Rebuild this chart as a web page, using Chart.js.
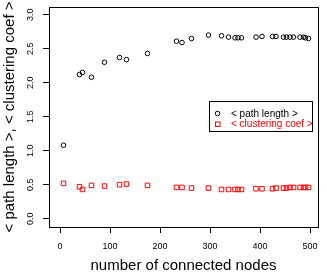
<!DOCTYPE html>
<html>
<head>
<meta charset="utf-8">
<script src="https://cdn.jsdelivr.net/npm/chart.js@4/dist/chart.umd.min.js"></script>
<style>
html,body{margin:0;padding:0;background:#fff;}
canvas{display:block;}
</style>
</head>
<body>
<canvas id="c" width="327" height="273"></canvas>
<script>
const nodes = [7, 39, 45, 63, 89, 119, 133, 175, 233, 244, 263, 297, 323, 337, 350, 356, 363, 392, 404, 425, 432, 447, 453, 460, 467, 480, 487, 491, 497];
const pathLength = [1.08, 2.12, 2.15, 2.08, 2.30, 2.37, 2.34, 2.43, 2.61, 2.59, 2.65, 2.70, 2.69, 2.67, 2.66, 2.66, 2.66, 2.67, 2.68, 2.68, 2.68, 2.67, 2.67, 2.67, 2.67, 2.67, 2.67, 2.66, 2.65];
const clusteringCoef = [0.52, 0.47, 0.43, 0.49, 0.48, 0.50, 0.51, 0.49, 0.46, 0.46, 0.45, 0.45, 0.43, 0.43, 0.43, 0.43, 0.43, 0.44, 0.44, 0.44, 0.45, 0.45, 0.45, 0.46, 0.46, 0.46, 0.46, 0.46, 0.46];
const xTicks = [0, 100, 200, 300, 400, 500];
const yTicks = [0.0, 0.5, 1.0, 1.5, 2.0, 2.5, 3.0];
const seriesNames = ['< path length >', '< clustering coef >'];
const xTitle = 'number of connected nodes';
const yTitle = '< path length >, < clustering coef >';

const FONT = '"Liberation Sans", Arial, Helvetica, sans-serif';

const rPlot = {
  id: 'rPlot',
  afterDraw(chart) {
    const ctx = chart.ctx;
    const a = chart.chartArea;
    const ys = chart.scales.y;
    ctx.save();
    // box
    ctx.strokeStyle = '#000';
    ctx.lineWidth = 1;
    ctx.strokeRect(Math.round(a.left) + 0.5, Math.round(a.top) + 0.5, Math.round(a.right - a.left), Math.round(a.bottom - a.top));
    // y tick labels (rotated, R style)
    ctx.fillStyle = '#000';
    ctx.font = '9px ' + FONT;
    ctx.textAlign = 'center';
    ctx.textBaseline = 'middle';
    yTicks.forEach(v => {
      const py = ys.getPixelForValue(v);
      ctx.save();
      ctx.translate(31, py);
      ctx.rotate(-Math.PI / 2);
      ctx.fillText(v.toFixed(1), 0, 0);
      ctx.restore();
    });
    // titles
    ctx.font = '15px ' + FONT;
    ctx.textBaseline = 'alphabetic';
    ctx.fillText(xTitle, (a.left + a.right) / 2, 270);
    ctx.save();
    ctx.translate(14, (a.top + a.bottom) / 2);
    ctx.rotate(-Math.PI / 2);
    ctx.fillText(yTitle, 0, 0);
    ctx.restore();
    // legend
    const lx = 209, ly = 101, lw = 103, lh = 30;
    ctx.fillStyle = '#fff';
    ctx.fillRect(lx, ly, lw, lh);
    ctx.strokeStyle = '#000';
    ctx.strokeRect(lx + 0.5, ly + 0.5, lw, lh);
    ctx.font = '10px ' + FONT;
    ctx.textAlign = 'left';
    ctx.textBaseline = 'middle';
    ctx.lineWidth = 1;
    ctx.beginPath();
    ctx.arc(217.5, 113.5, 2.3, 0, Math.PI * 2);
    ctx.strokeStyle = '#000';
    ctx.stroke();
    ctx.fillStyle = '#000';
    ctx.fillText(seriesNames[0], 231, 114);
    ctx.strokeStyle = '#ff0000';
    ctx.strokeRect(215.5, 122, 4.5, 4.5);
    ctx.fillStyle = '#ff0000';
    ctx.fillText(seriesNames[1], 231, 124.5);
    ctx.restore();
  }
};

new Chart(document.getElementById('c'), {
  type: 'scatter',
  data: {
    datasets: [
      {
        label: seriesNames[0],
        data: nodes.map((x, i) => ({x: x, y: pathLength[i]})),
        pointStyle: 'circle',
        pointRadius: 2.3,
        borderColor: '#000',
        backgroundColor: 'rgba(0,0,0,0)',
        borderWidth: 1
      },
      {
        label: seriesNames[1],
        data: nodes.map((x, i) => ({x: x, y: clusteringCoef[i]})),
        pointStyle: 'rect',
        pointRadius: 3.2,
        borderColor: '#ff0000',
        backgroundColor: 'rgba(0,0,0,0)',
        borderWidth: 1
      }
    ]
  },
  options: {
    responsive: false,
    animation: false,
    devicePixelRatio: 1,
    layout: {padding: {top: 7, right: 9, left: 0, bottom: 0}},
    plugins: {legend: {display: false}, tooltip: {enabled: false}},
    scales: {
      x: {
        type: 'linear',
        min: -22,
        max: 516,
        afterBuildTicks: s => { s.ticks = xTicks.map(v => ({value: v})); },
        afterFit: s => { s.height = 46; },
        grid: {display: true, drawOnChartArea: false, drawTicks: true, tickLength: 6, color: '#000', lineWidth: 1},
        border: {display: true, color: '#000', width: 1},
        ticks: {color: '#000', font: {family: FONT, size: 9}, padding: 8, maxRotation: 0, autoSkip: false}
      },
      y: {
        type: 'linear',
        min: -0.122,
        max: 3.113,
        afterBuildTicks: s => { s.ticks = yTicks.map(v => ({value: v})); },
        afterFit: s => { s.width = 49; },
        grid: {display: true, drawOnChartArea: false, drawTicks: true, tickLength: 6, color: '#000', lineWidth: 1},
        border: {display: true, color: '#000', width: 1},
        ticks: {display: false}
      }
    }
  },
  plugins: [rPlot]
});
</script>
</body>
</html>
